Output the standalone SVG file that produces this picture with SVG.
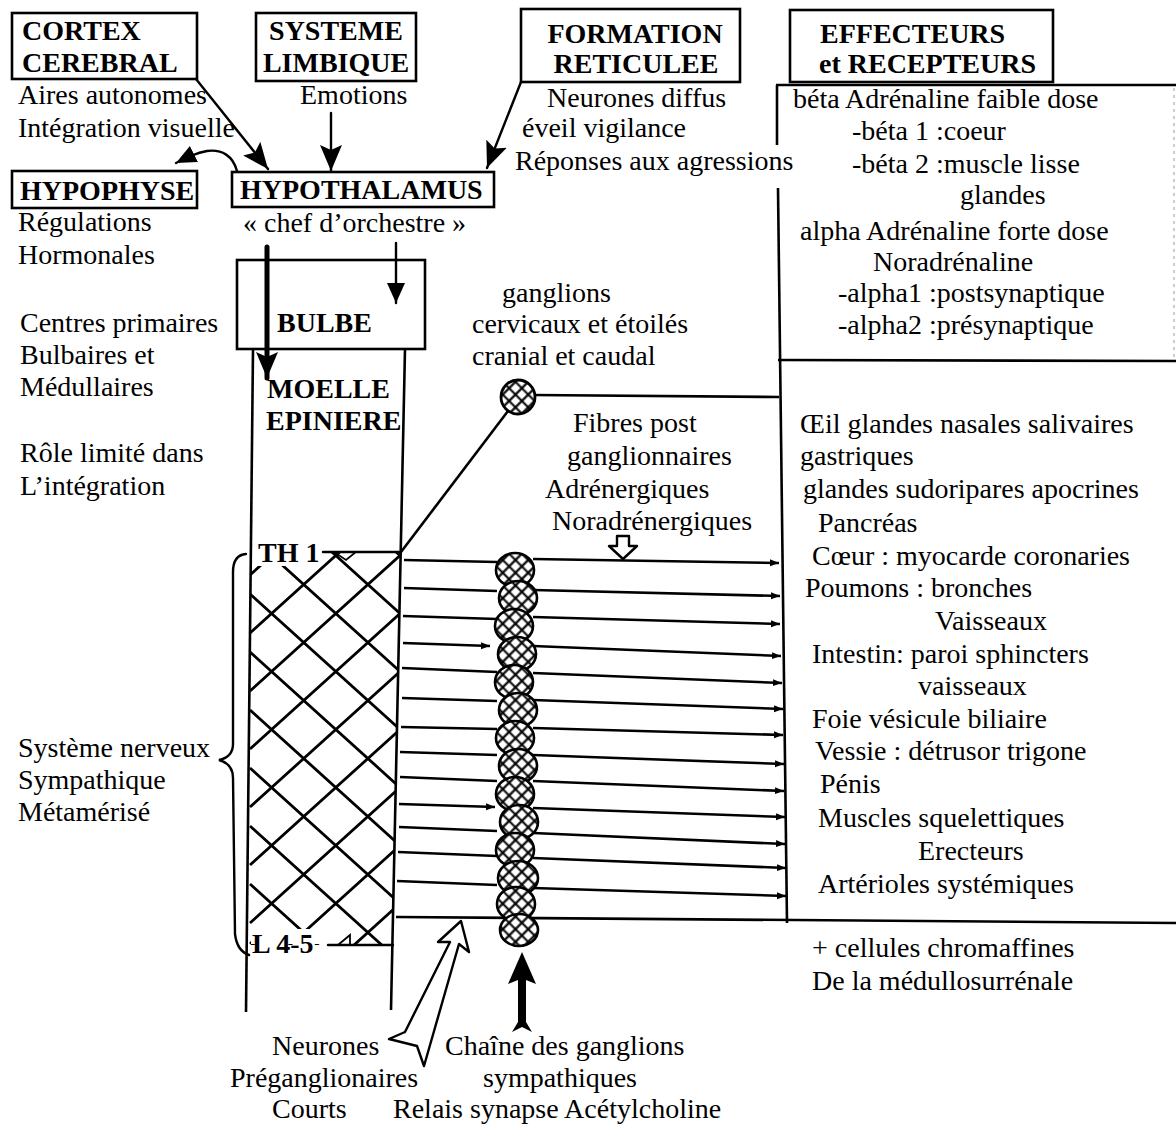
<svg xmlns="http://www.w3.org/2000/svg" width="1176" height="1125" viewBox="0 0 1176 1125">
  <style>
    .t { font-family: "Liberation Serif", "Times New Roman", serif; font-size: 28px; fill: #000; }
    .b { font-family: "Liberation Serif", "Times New Roman", serif; font-size: 28px; font-weight: bold; fill: #000; }
    .box { fill: none; stroke: #000; stroke-width: 2.6; }
    .ln { fill: none; stroke: #000; stroke-width: 2.4; stroke-linecap: round; }
    .fib { fill: none; stroke: #000; stroke-width: 2.6; }
    .hatch { fill: none; stroke: #000; stroke-width: 2.8; }
  </style>
  <defs>
    <marker id="head" markerUnits="userSpaceOnUse" markerWidth="28" markerHeight="24" refX="26" refY="11" orient="auto">
      <path d="M0,0 L26,11 L0,22 L5,11 z" fill="#000"/>
    </marker>
    <marker id="headS" markerUnits="userSpaceOnUse" markerWidth="22" markerHeight="20" refX="20" refY="9" orient="auto">
      <path d="M0,0 L20,9 L0,18 z" fill="#000"/>
    </marker>
    <marker id="tick" markerUnits="userSpaceOnUse" markerWidth="10" markerHeight="8" refX="9" refY="3.5" orient="auto">
      <path d="M0,0 L9,3.5 L0,7 z" fill="#000"/>
    </marker>
    <pattern id="mesh" patternUnits="userSpaceOnUse" width="9" height="9" patternTransform="rotate(45)">
      <rect width="9" height="9" fill="#fff"/>
      <path d="M0,4.5 H9 M4.5,0 V9" stroke="#000" stroke-width="2.2"/>
    </pattern>
    <clipPath id="cordClip">
      <polygon points="251,553 401,553 392,945 248,945"/>
    </clipPath>
  </defs>

  <rect width="1176" height="1125" fill="#fff"/>

  <!-- upper centres -->
  <g id="cortex">
    <rect class="box" x="12" y="13" width="185" height="66"/>
    <text class="b" x="22" y="40">CORTEX</text>
    <text class="b" x="22" y="72">CEREBRAL</text>
    <text class="t" x="18" y="104">Aires autonomes</text>
    <text class="t" x="18" y="137">Intégration visuelle</text>
  </g>

  <g id="limbique">
    <rect class="box" x="256" y="13" width="160" height="68"/>
    <text class="b" x="336" y="40" text-anchor="middle">SYSTEME</text>
    <text class="b" x="336" y="72" text-anchor="middle">LIMBIQUE</text>
    <text class="t" x="300" y="104">Emotions</text>
  </g>

  <g id="formation">
    <rect class="box" x="521" y="9" width="219" height="73"/>
    <text class="b" x="635" y="43" text-anchor="middle">FORMATION</text>
    <text class="b" x="636" y="73" text-anchor="middle">RETICULEE</text>
    <text class="t" x="547" y="107">Neurones diffus</text>
    <text class="t" x="522" y="137">éveil vigilance</text>
    <text class="t" x="515" y="170">Réponses aux agressions</text>
  </g>

  <g id="hypophyse">
    <rect class="box" x="12" y="171" width="185" height="37"/>
    <text class="b" x="20" y="200">HYPOPHYSE</text>
    <text class="t" x="18" y="231">Régulations</text>
    <text class="t" x="18" y="264">Hormonales</text>
  </g>

  <g id="hypothalamus">
    <rect class="box" x="232" y="172" width="262" height="35"/>
    <text class="b" x="240" y="199">HYPOTHALAMUS</text>
    <text class="t" x="243" y="232">« chef d’orchestre »</text>
  </g>

  <!-- brain stem and spinal cord -->
  <g id="bulbe">
    <rect class="box" x="237" y="260" width="188" height="89"/>
    <text class="b" x="277" y="332">BULBE</text>
    <text class="t" x="20" y="332">Centres primaires</text>
    <text class="t" x="20" y="364">Bulbaires et</text>
    <text class="t" x="20" y="396">Médullaires</text>
  </g>

  <g id="moelle">
    <line class="box" x1="253" y1="349" x2="246" y2="1012"/>
    <line class="box" x1="405" y1="349" x2="391" y2="1010"/>
    <text class="b" x="267" y="398">MOELLE</text>
    <text class="b" x="266" y="430">EPINIERE</text>
    <text class="t" x="20" y="462">Rôle limité dans</text>
    <text class="t" x="20" y="495">L’intégration</text>
  </g>

  <!-- thoraco-lumbar segment TH1 - L4-5 -->
  <g id="segment">
    <g clip-path="url(#cordClip)">
      <path class="hatch" d="M250,420 L405,560 M250,478 L405,618 M250,536 L405,676 M250,594 L405,734 M250,652 L405,792 M250,710 L405,850 M250,768 L405,908 M250,826 L405,966 M250,884 L405,1024 M250,942 L405,1082"/>
      <path class="hatch" d="M250,575 L405,435 M250,633 L405,493 M250,691 L405,551 M250,749 L405,609 M250,807 L405,667 M250,865 L405,725 M250,923 L405,783 M250,981 L405,841 M250,1039 L405,899 M250,1097 L405,957"/>
    </g>
    <rect x="255" y="538" width="66" height="28" fill="#fff"/>
    <rect x="251" y="929" width="76" height="15" fill="#fff"/>
    <text class="b" x="258" y="562">TH 1</text>
    <line class="ln" x1="323" y1="552" x2="400" y2="552"/>
    <path d="M334,552 L356,552 L346,560 z" fill="none" stroke="#000" stroke-width="1.8"/>
    <text class="b" x="252" y="953">L 4-5</text>
    <line class="ln" x1="328" y1="945" x2="393" y2="945"/>
    <path d="M338,945 L350,935 L350,945 z" fill="none" stroke="#000" stroke-width="1.8"/>
    <path class="ln" d="M246,554 Q233,555 233,572 L233,744 Q233,757 219,760 Q233,764 233,778 L235,934 Q237,951 249,955"/>
    <text class="t" x="18" y="757">Système nerveux</text>
    <text class="t" x="18" y="789">Sympathique</text>
    <text class="t" x="18" y="821">Métamérisé</text>
  </g>

  <!-- effectors and receptors -->
  <g id="effecteurs">
    <rect class="box" x="790" y="10" width="263" height="72"/>
    <text class="b" x="820" y="43">EFFECTEURS</text>
    <text class="b" x="819" y="73">et RECEPTEURS</text>
    <line class="box" x1="776" y1="85" x2="1176" y2="85"/>
    <line class="box" x1="777" y1="85" x2="777" y2="145"/>
    <line class="box" x1="778" y1="188" x2="787" y2="923"/>
    <line class="box" x1="778" y1="360" x2="1176" y2="361"/>
    <line x1="1174" y1="88" x2="1174" y2="358" stroke="#999" stroke-width="1" stroke-dasharray="3 4"/>
    <text class="t" x="793" y="108">béta Adrénaline faible dose</text>
    <text class="t" x="852" y="140">-béta 1 :coeur</text>
    <text class="t" x="852" y="173">-béta 2 :muscle lisse</text>
    <text class="t" x="960" y="204">glandes</text>
    <text class="t" x="800" y="240">alpha Adrénaline forte dose</text>
    <text class="t" x="873" y="271">Noradrénaline</text>
    <text class="t" x="838" y="302">-alpha1 :postsynaptique</text>
    <text class="t" x="838" y="334">-alpha2 :présynaptique</text>
    <text class="t" x="800" y="433">Œil glandes nasales salivaires</text>
    <text class="t" x="800" y="465">gastriques</text>
    <text class="t" x="803" y="498">glandes sudoripares apocrines</text>
    <text class="t" x="818" y="532">Pancréas</text>
    <text class="t" x="812" y="565">Cœur : myocarde coronaries</text>
    <text class="t" x="805" y="597">Poumons : bronches</text>
    <text class="t" x="935" y="630">Vaisseaux</text>
    <text class="t" x="812" y="663">Intestin: paroi sphincters</text>
    <text class="t" x="918" y="695">vaisseaux</text>
    <text class="t" x="812" y="728">Foie vésicule biliaire</text>
    <text class="t" x="815" y="760">Vessie : détrusor trigone</text>
    <text class="t" x="820" y="793">Pénis</text>
    <text class="t" x="818" y="827">Muscles squelettiques</text>
    <text class="t" x="918" y="860">Erecteurs</text>
    <text class="t" x="818" y="893">Artérioles systémiques</text>
    <text class="t" x="812" y="957">+ cellules chromaffines</text>
    <text class="t" x="812" y="990">De la médullosurrénale</text>
  </g>

  <!-- nerve fibres and arrows -->
  <g id="connectors">
    <line class="ln" x1="196" y1="79" x2="268" y2="169" stroke-width="2.6" marker-end="url(#head)"/>
    <line class="ln" x1="331" y1="113" x2="331" y2="171" stroke-width="2.6" marker-end="url(#head)"/>
    <line class="ln" x1="521" y1="82" x2="487" y2="168" stroke-width="2.6" marker-end="url(#head)"/>
    <path class="ln" d="M237,171 C233,156 222,149 207,151 C196,153 188,157 176,163" stroke-width="3" marker-end="url(#headS)"/>
    <line x1="267" y1="247" x2="267" y2="378" stroke="#000" stroke-width="5" stroke-linecap="round" marker-end="url(#head)"/>
    <line class="ln" x1="396" y1="243" x2="396" y2="303" stroke-width="2.8" marker-end="url(#headS)"/>

    <!-- cervical / stellate ganglion -->
    <line class="fib" x1="401" y1="552" x2="508" y2="411"/>
    <line class="fib" x1="533" y1="395" x2="779" y2="397"/>

    <!-- preganglionic fibres -->
    <g class="fib">
      <line x1="404" y1="560" x2="497" y2="562"/>
      <line x1="404" y1="588" x2="497" y2="591"/>
      <line x1="403" y1="616" x2="497" y2="619"/>
      <line x1="403" y1="643" x2="490" y2="646" marker-end="url(#tick)"/>
      <line x1="402" y1="668" x2="497" y2="672"/>
      <line x1="402" y1="698" x2="497" y2="701"/>
      <line x1="401" y1="727" x2="497" y2="729"/>
      <line x1="400" y1="752" x2="497" y2="755"/>
      <line x1="400" y1="777" x2="497" y2="781"/>
      <line x1="399" y1="804" x2="495" y2="807" marker-end="url(#tick)"/>
      <line x1="399" y1="827" x2="497" y2="831"/>
      <line x1="398" y1="852" x2="497" y2="856"/>
      <line x1="397" y1="881" x2="497" y2="885"/>
    </g>

    <!-- postganglionic fibres -->
    <g class="fib">
      <line x1="533" y1="559" x2="779" y2="563" marker-end="url(#tick)"/>
      <line x1="533" y1="590" x2="780" y2="596" marker-end="url(#tick)"/>
      <line x1="533" y1="617" x2="780" y2="624" marker-end="url(#tick)"/>
      <line x1="533" y1="646" x2="781" y2="656" marker-end="url(#tick)"/>
      <line x1="533" y1="673" x2="782" y2="683" marker-end="url(#tick)"/>
      <line x1="533" y1="700" x2="783" y2="709" marker-end="url(#tick)"/>
      <line x1="533" y1="728" x2="783" y2="735" marker-end="url(#tick)"/>
      <line x1="533" y1="755" x2="784" y2="764" marker-end="url(#tick)"/>
      <line x1="533" y1="781" x2="784" y2="791" marker-end="url(#tick)"/>
      <line x1="533" y1="808" x2="785" y2="817" marker-end="url(#tick)"/>
      <line x1="533" y1="833" x2="785" y2="844" marker-end="url(#tick)"/>
      <line x1="533" y1="858" x2="786" y2="868" marker-end="url(#tick)"/>
      <line x1="533" y1="888" x2="786" y2="896" marker-end="url(#tick)"/>
    </g>
    <line class="fib" x1="396" y1="917" x2="1176" y2="923"/>

    <!-- hollow pointers -->
    <polygon points="617,536 629,536 629,546 637,546 623,559 609,546 617,546" fill="#fff" stroke="#000" stroke-width="2.4" stroke-linejoin="round"/>
    <polygon points="461,921 469,952 459,944 424,1066 417,1046 389,1039 405,1032 450,942 438,942" fill="#fff" stroke="#000" stroke-width="2.4" stroke-linejoin="round"/>
    <polygon points="522,952 536,984 526,980 526,1022 532,1032 522,1027 512,1032 518,1022 518,980 508,984" fill="#000"/>
  </g>

  <!-- ganglia -->
  <g id="ganglion-cervical">
    <circle cx="518" cy="397" r="17" fill="url(#mesh)" stroke="#000" stroke-width="2.8"/>
  </g>
  <g id="chaine-ganglionnaire" fill="url(#mesh)" stroke="#000" stroke-width="2.6">
    <ellipse cx="515" cy="570" rx="19" ry="17"/>
    <ellipse cx="518" cy="598" rx="19" ry="17"/>
    <ellipse cx="514" cy="626" rx="19" ry="17"/>
    <ellipse cx="517" cy="654" rx="19" ry="17"/>
    <ellipse cx="514" cy="682" rx="19" ry="17"/>
    <ellipse cx="518" cy="710" rx="19" ry="17"/>
    <ellipse cx="515" cy="738" rx="19" ry="17"/>
    <ellipse cx="518" cy="766" rx="19" ry="17"/>
    <ellipse cx="515" cy="794" rx="19" ry="17"/>
    <ellipse cx="519" cy="822" rx="19" ry="17"/>
    <ellipse cx="515" cy="850" rx="19" ry="17"/>
    <ellipse cx="518" cy="878" rx="20" ry="17"/>
    <ellipse cx="516" cy="904" rx="19" ry="17"/>
    <ellipse cx="519" cy="930" rx="19" ry="16"/>
  </g>
  <g id="ganglion-labels">
    <text class="t" x="502" y="302">ganglions</text>
    <text class="t" x="472" y="333">cervicaux et étoilés</text>
    <text class="t" x="472" y="365">cranial et caudal</text>
    <text class="t" x="573" y="432">Fibres post</text>
    <text class="t" x="567" y="465">ganglionnaires</text>
    <text class="t" x="545" y="498">Adrénergiques</text>
    <text class="t" x="552" y="530">Noradrénergiques</text>
  </g>

  <!-- bottom captions -->
  <g id="legendes">
    <text class="t" x="272" y="1055">Neurones</text>
    <text class="t" x="230" y="1087">Préganglionaires</text>
    <text class="t" x="272" y="1118">Courts</text>
    <text class="t" x="445" y="1055">Chaîne des ganglions</text>
    <text class="t" x="483" y="1087">sympathiques</text>
    <text class="t" x="393" y="1118">Relais synapse Acétylcholine</text>
  </g>
</svg>
